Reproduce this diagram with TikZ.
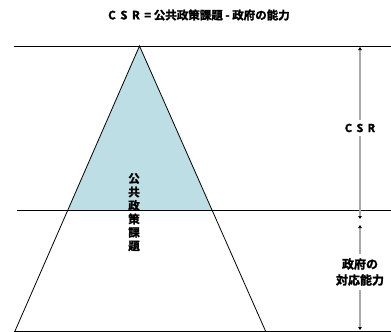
\documentclass[tikz,border=0pt]{standalone}
\usepackage{fontspec}
\newfontfamily\jp{Noto Sans CJK JP}[BoldFont={Noto Sans CJK JP Bold}, BoldFeatures={FakeBold=2}]
\newcommand\titlefnt{\jp\bfseries\fontsize{11.5}{14}\selectfont}
\newcommand\vertfnt{\jp\bfseries\fontsize{11.5}{13.5}\selectfont}
\newcommand\csrfnt{\jp\bfseries\fontsize{11}{13}\selectfont}
\newcommand\govfnt{\jp\bfseries\fontsize{12}{14}\selectfont}
\usetikzlibrary{arrows.meta}
\definecolor{csrblue}{RGB}{189,222,228}
\definecolor{dimgray}{RGB}{170,170,170}
\tikzset{
  rule/.style={draw=black, line width=0.9pt},
  edge/.style={draw=black, line width=0.8pt},
  dimarrow/.style={draw=dimgray, line width=1.6pt,
    {Triangle[width=3.5pt,length=3pt,color=black]}-{Triangle[width=3.5pt,length=3pt,color=black]}},
  vchar/.style={font=\vertfnt, inner sep=0pt},
  dimlbl/.style={fill=white, inner xsep=1pt, inner ysep=4pt}
}
\begin{document}
\begin{tikzpicture}[x=1pt,y=-1pt]
\useasboundingbox (0,0) rectangle (391,332);
% key points
\coordinate (apex) at (139.5,46);
\coordinate (ml) at (68,210);
\coordinate (mr) at (212,210);
\coordinate (bl) at (15,331);
\coordinate (br) at (265.5,331);
\coordinate (t0) at (14,46);
\coordinate (t1) at (391,46);
\coordinate (m0) at (17,210);
\coordinate (m1) at (391,210);
\coordinate (b0) at (14,331);
\coordinate (b1) at (391,331);
% filled upper triangle
\fill[csrblue] (apex) -- (ml) -- (mr) -- cycle;
% horizontal rules
\draw[rule] (t0) -- (t1);
\draw[rule] (m0) -- (m1);
\draw[rule] (b0) -- (b1);
% triangle edges
\draw[edge] (bl) -- (apex) -- (br);
% dimension arrows
\coordinate (a1) at (360,47);
\coordinate (a2) at (360,219);
\coordinate (a3) at (360,225);
\coordinate (a4) at (360,330);
\draw[dimarrow] (a1) -- (a2);
\draw[dimarrow] (a3) -- (a4);
% title
\node[font=\titlefnt, inner sep=1pt] (title) at (199,15) {C\, S\, R\, = 公共政策課題 - 政府の能力};
% vertical label
\node[vchar] (v1) at (134,178.5) {公};
\node[vchar] (v2) at (134,192) {共};
\node[vchar] (v3) at (134,205.5) {政};
\node[vchar] (v4) at (134,219) {策};
\node[vchar] (v5) at (134,232.5) {課};
\node[vchar] (v6) at (134,246) {題};
% dimension labels
\node[dimlbl, font=\csrfnt] (csr) at (360,128) {C\, S\, R};
\node[dimlbl, font=\govfnt, align=center] (gov) at (360,272) {政府の\\[2pt]対応能力};
\end{tikzpicture}
\end{document}
